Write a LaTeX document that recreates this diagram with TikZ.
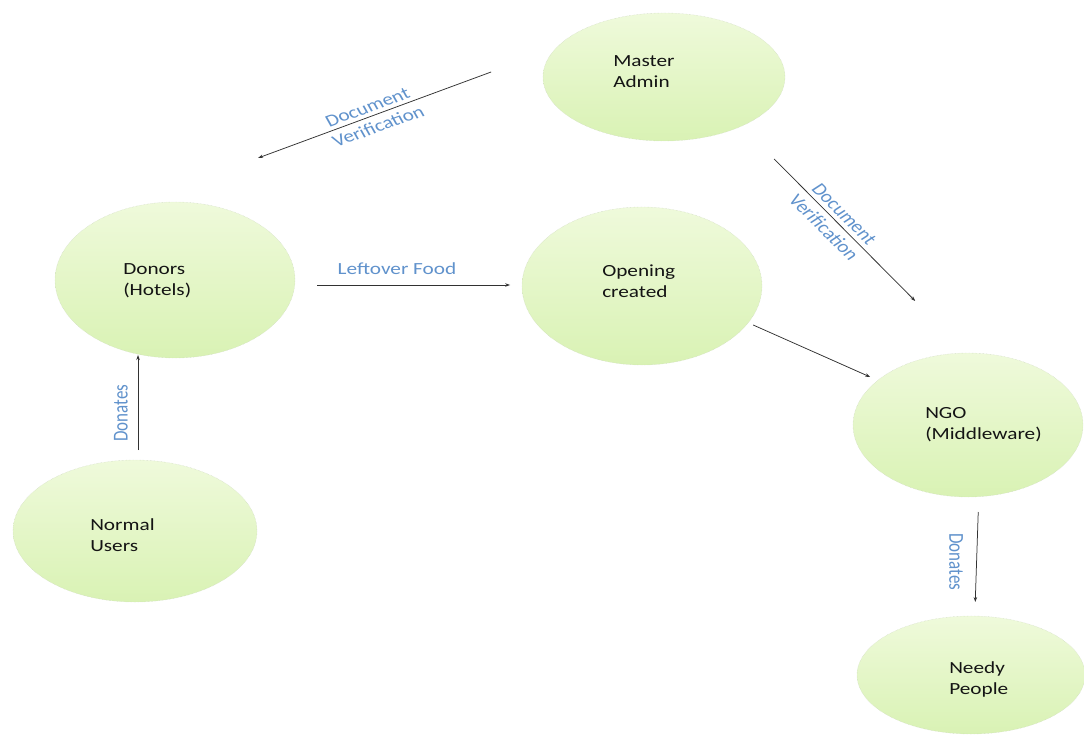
\documentclass[tikz,border=0pt]{standalone}
\usepackage{fontspec}
\setmainfont{Carlito}
\usetikzlibrary{shapes.geometric,arrows.meta}
\definecolor{elltop}{RGB}{239,250,219}
\definecolor{ellbot}{RGB}{217,242,180}
\definecolor{ellline}{RGB}{200,212,188}
\definecolor{lblblue}{RGB}{96,146,204}
\definecolor{arrowgray}{RGB}{50,50,50}
\definecolor{txtblack}{RGB}{20,20,20}
\tikzset{
  actor/.style 2 args={ellipse, inner sep=0pt, minimum width=#1pt, minimum height=#2pt,
    top color=elltop, bottom color=ellbot, draw=ellline, densely dotted, line width=0.4pt},
  nodetext/.style={anchor=base west, align=left, inner sep=0pt, text=txtblack,
    font=\fontsize{17}{21}\selectfont},
  lbl/.style={align=center, inner sep=0pt, text=lblblue, font=\fontsize{17}{21}\selectfont},
  flow/.style={draw=arrowgray, line width=0.75pt, -{Stealth[length=5pt,width=3.5pt]}}
}
\begin{document}
\begin{tikzpicture}[x=0.8pt,y=-1pt]
\begin{scope}[xscale=1.25, transform shape]
\path[use as bounding box, fill=white] (0,0) rectangle (1084,735);

% ellipses
\node[actor={193.6}{128}] (admin)   at (664,77)  {};
\node[actor={192}{156}]   (donors)  at (175,280) {};
\node[actor={192}{158}]   (opening) at (642,286) {};
\node[actor={184}{144}]   (ngo)     at (968,425) {};
\node[actor={195.2}{142}] (users)   at (135,531) {};
\node[actor={182.4}{118}] (needy)   at (971,675) {};

% texts (anchored at the baseline of the last line)
\node[nodetext] (admin-t)   at (613,88)  {Master\\Admin};
\node[nodetext] (donors-t)  at (123,296) {Donors\\(Hotels)};
\node[nodetext] (opening-t) at (602,298) {Opening\\created};
\node[nodetext] (ngo-t)     at (925,439) {NGO\\(Middleware)};
\node[nodetext] (users-t)   at (90,551)  {Normal\\Users};
\node[nodetext] (needy-t)   at (949,694) {Needy\\People};

% connector end points
\coordinate (a1s) at (491,72);
\coordinate (a1e) at (258,158);
\coordinate (a2s) at (774,159);
\coordinate (a2e) at (915,301);
\coordinate (a3s) at (317,285);
\coordinate (a3e) at (510,285);
\coordinate (a4s) at (753,325);
\coordinate (a4e) at (870,377);
\coordinate (a5s) at (138,450);
\coordinate (a5e) at (138,355);
\coordinate (a6s) at (978,512);
\coordinate (a6e) at (975,602);

\draw[flow] (a1s) -- (a1e);
\draw[flow] (a2s) -- (a2e);
\draw[flow] (a3s) -- (a3e);
\draw[flow] (a4s) -- (a4e);
\draw[flow] (a5s) -- (a5e);
\draw[flow] (a6s) -- (a6e);

% labels
\node[lbl, rotate=24.2]  (l1) at (373,117) {Document\\Verification};
\node[lbl, rotate=-50.9] (l2) at (834,221) {Document\\Verification};
\node[lbl, anchor=base]  (l3) at (397,275) {Leftover Food};
\node[lbl, rotate=90]    (l4) at (121,413) {Donates};
\node[lbl, rotate=-90]   (l5) at (956,562) {Donates};
\end{scope}
\end{tikzpicture}
\end{document}
